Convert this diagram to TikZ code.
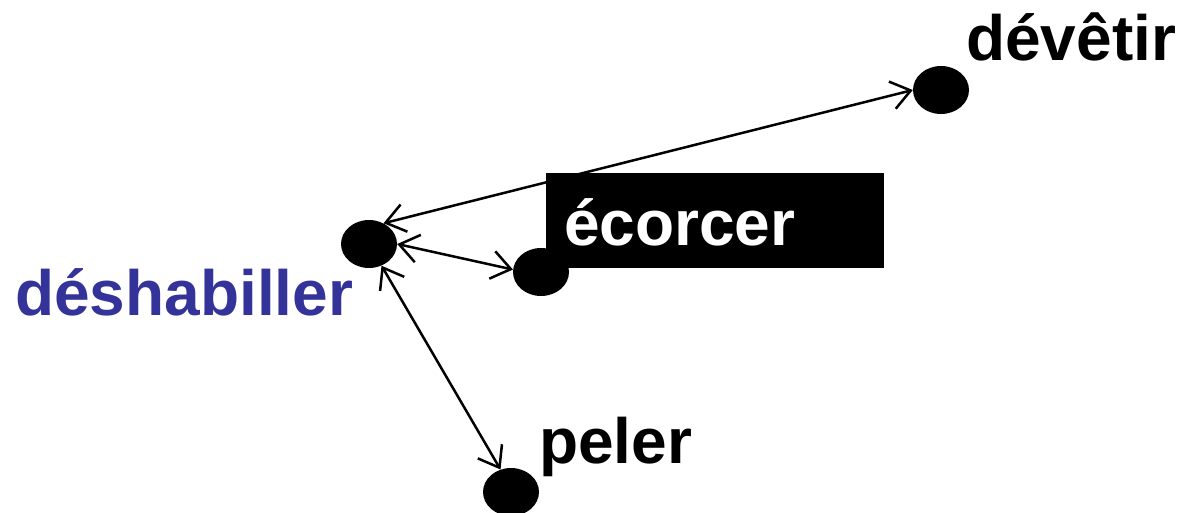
\documentclass[tikz,border=0pt]{standalone}
\usepackage{fontspec}
\setmainfont{Liberation Sans}
\usetikzlibrary{shapes.geometric,arrows.meta}
\definecolor{deshblue}{RGB}{51,51,153}
\begin{document}
\begin{tikzpicture}[x=1pt,y=-1pt,
  dot/.style={ellipse,fill=black,minimum width=56pt,minimum height=48pt,inner sep=0pt},
  word/.style={font=\fontsize{64}{72}\selectfont\bfseries,anchor=base west,inner sep=0pt},
  link/.style={line width=2.5pt,{Straight Barb[length=19pt,width=28pt]}-{Straight Barb[length=19pt,width=28pt]}}]
\useasboundingbox (0,0) rectangle (1181,512);
\foreach \n/\x/\y in {desh/369/244,ecor/541/272,devet/941/90,pel/511/492}{\node[dot] (\n) at (\x,\y) {};}
\node[word,anchor=north west,fill=black,text=white,inner xsep=18pt,inner ysep=0pt,text width=302pt,align=left,
  text height=49pt,text depth=0pt,minimum height=95pt] (ecorbox) at (546,173) {écorcer};
\node[word,text=deshblue] (deshlab) at (15,315) {déshabiller};
\node[word] (devetlab) at (966,60) {dévêtir};
\node[word] (pellab) at (539,463) {peler};
\draw[link] (desh.55) -- (devet.west);
\draw[link] (desh.east) -- (ecor.175);
\draw[link] (desh.-60) -- (pel.115);
\end{tikzpicture}
\end{document}
